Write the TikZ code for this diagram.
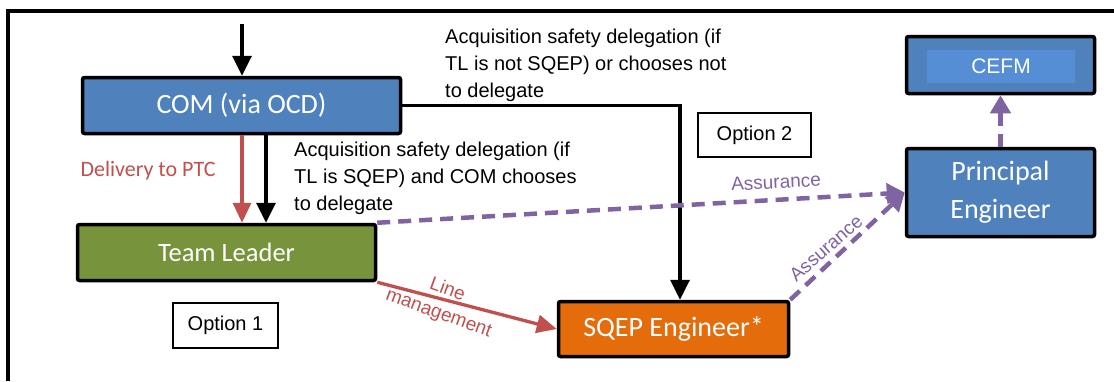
\documentclass[tikz,border=0pt]{standalone}
\usepackage{fontspec}
\setmainfont{Carlito}
\newfontfamily\arial{Liberation Sans}
\usetikzlibrary{arrows.meta}
\definecolor{boxblue}{HTML}{4F81BD}
\definecolor{innerblue}{HTML}{558ED5}
\definecolor{boxgreen}{HTML}{77933C}
\definecolor{boxorange}{HTML}{E46C0A}
\definecolor{linered}{HTML}{C0504D}
\definecolor{linepurple}{HTML}{8064A2}
\tikzset{
  box/.style={draw=black, line width=3.5pt, rounded corners=2pt, text=white, inner sep=0pt, align=center},
  optbox/.style={draw=black, line width=1.5pt, fill=white, inner sep=0pt, font=\arial\fontsize{20}{24}\selectfont},
  blackarrow/.style={draw=black, line width=3.5pt, -{Triangle[length=20pt,width=19pt]}},
  redarrow/.style={draw=linered, line width=3.3pt, -{Triangle[length=20pt,width=18pt]}},
  purplearrow/.style={draw=linepurple, line width=4.5pt, dash pattern=on 13pt off 8pt, -{Triangle[length=18pt,width=20pt]}},
  note/.style={inner sep=0pt, align=left, anchor=north west, font=\arial\fontsize{20}{26.7}\selectfont},
}
\begin{document}
\begin{tikzpicture}[x=1pt,y=-1pt]
\useasboundingbox (0,0) rectangle (1114,381);
% frame
\draw[line width=4pt] (8,381) -- (8,11) -- (1114,11);
% boxes
\node[box, fill=boxblue, minimum width=318pt, minimum height=56pt, font=\fontsize{28}{34}\selectfont] (com) at (241.5,105.5) {COM (via OCD)};
\node[box, fill=boxgreen, minimum width=298pt, minimum height=56pt, font=\fontsize{26.5}{32}\selectfont] (tl) at (226.5,252.5) {Team Leader};
\node[box, fill=boxorange, minimum width=230pt, minimum height=55pt, font=\fontsize{28}{34}\selectfont] (sqep) at (673.5,329) {SQEP Engineer*};
\node[box, fill=boxblue, minimum width=188pt, minimum height=57pt] (cefm) at (1000.5,65) {};
\node[fill=innerblue, minimum width=148pt, minimum height=33pt, inner sep=0pt, text=white, font=\arial\fontsize{21}{25}\selectfont] (cefmin) at (1001,66.5) {CEFM};
\node[box, fill=boxblue, minimum width=188pt, minimum height=88pt, font=\fontsize{28}{38}\selectfont] (pe) at (1000.5,192.5) {Principal\\Engineer};
\node[optbox, minimum width=113pt, minimum height=44pt] (opt2) at (754.5,135) {Option 2};
\node[optbox, minimum width=105pt, minimum height=45pt] (opt1) at (225.5,325.5) {Option 1};
% text blocks
\node[note] (t1) at (445,29) {Acquisition safety delegation (if\\TL is not SQEP) or chooses not\\to delegate};
\node[note] (t2) at (294,142) {Acquisition safety delegation (if\\TL is SQEP) and COM chooses\\to delegate};
\node[text=linered, inner sep=0pt, font=\fontsize{22}{26}\selectfont] (dlabel) at (148,171) {Delivery to PTC};
% connectors
\coordinate (start) at (242,24);
\draw[blackarrow] (start) -- (com.north -| start);
\draw[redarrow] (com.south -| 242,0) -- (tl.north -| 242,0);
\draw[blackarrow] (com.south -| 266,0) -- (tl.north -| 266,0);
\draw[blackarrow, rounded corners=0pt] (com.east) -| (sqep.north -| 680,0);
\draw[redarrow] (tl.south east) -- (sqep.west);
\draw[purplearrow] (tl.north east) -- (pe.west);
\draw[purplearrow] (sqep.north east) -- (pe.west);
\draw[purplearrow] (pe.north) -- (cefm.south);
% connector labels
\node[text=linered, inner sep=0pt, rotate=-20, align=center, font=\arial\fontsize{19}{25}\selectfont] (lmlabel) at (443,302) {Line\\management};
\node[text=linepurple, inner sep=0pt, rotate=3, font=\arial\fontsize{19}{22}\selectfont] (alabel1) at (776,182) {Assurance};
\node[text=linepurple, inner sep=0pt, rotate=41, font=\arial\fontsize{19}{22}\selectfont] (alabel2) at (826,248) {Assurance};
\end{tikzpicture}
\end{document}
